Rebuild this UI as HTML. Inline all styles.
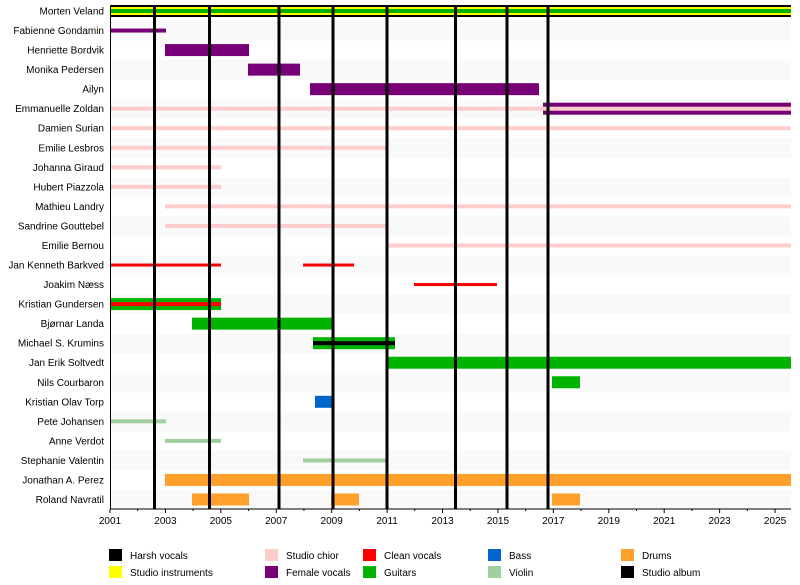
<!DOCTYPE html>
<html><head><meta charset="utf-8"><style>body{margin:0;background:#fff}svg{display:block}text{font-family:"Liberation Sans",sans-serif;font-size:10px;fill:#000}</style></head><body>
<svg width="800" height="585" xmlns="http://www.w3.org/2000/svg">
<g id="bg"></g>
<g id="bars"></g>
<g id="lab"></g>
</svg>
<script>
const NS="http://www.w3.org/2000/svg";
const X0=110,PX=27.71,X1=791,T=5,B=509,P=19.54;
function X(y){return X0+(y-2001)*PX}
function el(p,t,a,txt){const e=document.createElementNS(NS,t);for(const k in a)e.setAttribute(k,a[k]);if(txt!==undefined)e.textContent=txt;document.querySelector(p).appendChild(e);return e}
const names=["Morten Veland","Fabienne Gondamin","Henriette Bordvik","Monika Pedersen","Ailyn","Emmanuelle Zoldan","Damien Surian","Emilie Lesbros","Johanna Giraud","Hubert Piazzola","Mathieu Landry","Sandrine Gouttebel","Emilie Bernou","Jan Kenneth Barkved","Joakim Næss","Kristian Gundersen","Bjørnar Landa","Michael S. Krumins","Jan Erik Soltvedt","Nils Courbaron","Kristian Olav Torp","Pete Johansen","Anne Verdot","Stephanie Valentin","Jonathan A. Perez","Roland Navratil"];
function cy(i){return 11+i*P}
names.forEach((n,i)=>{
 if(i%2==1)el("#bg","rect",{x:X0,y:cy(i)-9.5,width:X1-X0,height:P,fill:"#f9f9f9"});
 el("#lab","text",{x:104,y:cy(i)+3.5,"text-anchor":"end"},n);
});
function bar(i,a,b,c,h){el("#bars","rect",{x:a,y:cy(i)-h/2,width:b-a,height:h,fill:c})}
const PU="#770077",PK="#ffcccc",RD="#ff0000",GR="#00b300",BL="#0066cc",VI="#a0d0a0",OR="#ffa02a";
bar(0,110,791,"#000",12);bar(0,110,791,"#ffff00",8);bar(0,110,791,GR,4);
bar(1,110,166,PU,4);
bar(2,165,249,PU,12);bar(3,248,300,PU,12);bar(4,310,539,PU,12);
bar(5,543,791,PU,12);bar(5,110,791,PK,4);
bar(6,110,791,PK,4);bar(7,110,387,PK,4);bar(8,110,221,PK,4);bar(9,110,221,PK,4);
bar(10,165,791,PK,4);bar(11,165,387,PK,4);bar(12,387,791,PK,4);
bar(13,110,221,RD,3);bar(13,303,354,RD,3);bar(14,414,497,RD,3);
bar(15,110,221,GR,12);bar(15,110,221,RD,4);
bar(16,192,332,GR,12);
bar(17,313,395,GR,12);bar(17,313,395,"#000",4);
bar(18,387,791,GR,12);bar(19,552,580,GR,12);
bar(20,315,332,BL,12);
bar(21,110,166,VI,4);bar(22,165,221,VI,4);bar(23,303,387,VI,4);
bar(24,165,791,OR,12);
bar(25,192,249,OR,12);bar(25,331,359,OR,12);bar(25,552,580,OR,12);
[154.5,209.5,279,333,387,455.5,507,548].forEach(x=>el("#bars","rect",{x:x-1.5,y:T,width:3,height:B-T,fill:"#000"}));
el("#bars","line",{x1:X0,y1:B,x2:X1,y2:B,stroke:"#000","stroke-width":1});
el("#bars","line",{x1:X0+0.5,y1:T,x2:X0+0.5,y2:B,stroke:"#000","stroke-width":1});
for(let y=2001;y<=2025;y++){const x=X(y);el("#bars","line",{x1:x,y1:B,x2:x,y2:B+(y%2?4:2),stroke:"#000","stroke-width":1});
 if(y%2)el("#lab","text",{x:x,y:524,"text-anchor":"middle"},y);}
const leg=[[109,549,"#000","Harsh vocals"],[109,566,"#ffff00","Studio instruments"],[265,549,PK,"Studio chior"],[265,566,PU,"Female vocals"],[363,549,RD,"Clean vocals"],[363,566,GR,"Guitars"],[488,549,BL,"Bass"],[488,566,VI,"Violin"],[621,549,OR,"Drums"],[621,566,"#000","Studio album"]];
leg.forEach(l=>{el("#bars","rect",{x:l[0],y:l[1],width:13,height:12,fill:l[2]});el("#lab","text",{x:l[0]+21,y:l[1]+10},l[3])});
</script>
</body></html>
